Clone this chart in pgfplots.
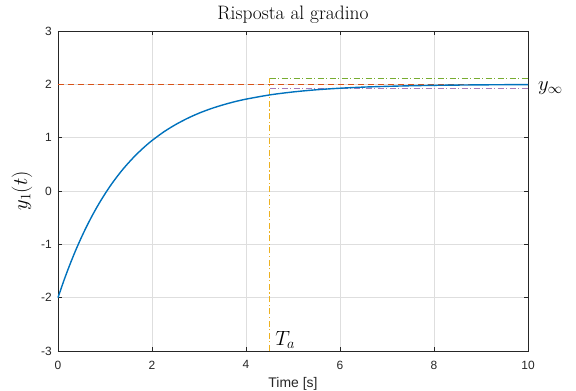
\documentclass[border=0pt]{standalone}
\usepackage{pgfplots}
\pgfplotsset{compat=1.18}
\usepackage{fontspec}
\newfontfamily\helv{Liberation Sans}
\definecolor{mblue}{HTML}{0072BD}
\definecolor{morange}{HTML}{D95319}
\definecolor{matyel}{RGB}{237,177,32}
\definecolor{mgreen}{HTML}{77AC30}
\definecolor{mpurple}{HTML}{A77BB8}
\definecolor{axgray}{HTML}{262626}
\definecolor{gridgray}{HTML}{DEDEDE}
\begin{document}
\begin{tikzpicture}
\begin{axis}[
  scale only axis, width=470bp, height=320bp,
  xmin=0, xmax=10, ymin=-3, ymax=3,
  xtick={0,2,4,6,8,10}, xticklabels={0,2,4,6,8,10},
  ytick={-3,-2,-1,0,1,2,3}, yticklabels={-3,-2,-1,0,1,2,3},
  grid=major, major grid style={gridgray, line width=0.5bp},
  axis line style={axgray, line width=0.6bp},
  tick style={axgray, line width=0.6bp},
  tick align=inside, major tick length=4bp,
  xtick pos=both, ytick pos=both,
  /pgf/number format/assume math mode=true,
  tick label style={font=\helv\fontsize{12}{14}\selectfont, text=axgray, inner sep=0pt},
  xticklabel style={anchor=north, yshift=-9.5bp},
  yticklabel style={anchor=east, xshift=-6bp},
  title={Risposta al gradino},
  title style={font=\fontsize{19.5}{22}\selectfont, at={(axis description cs:0.5,1)}, anchor=base, yshift=6bp, inner sep=0pt},
  xlabel={Time [s]},
  xlabel style={font=\helv\fontsize{14}{16}\selectfont, text=axgray, at={(axis description cs:0.5,0)}, anchor=base, yshift=-37bp, inner sep=0pt},
  ylabel={$y_1(t)$},
  ylabel style={font=\fontsize{22}{24}\selectfont, at={(axis description cs:0,0.5)}, anchor=center, yshift=36bp, inner sep=0pt},
  clip=false,
]
\addplot[morange, line width=0.6bp, dash pattern=on 6bp off 4bp] coordinates {(0,2) (10,2)};
\addplot[color=matyel, line width=1.2bp, dash pattern=on 6bp off 2.5bp on 1.2bp off 2.5bp] coordinates {(4.5,-3) (4.5,2.11)};
\addplot[mgreen, line width=0.7bp, dash pattern=on 6bp off 2.5bp on 1bp off 2.5bp] coordinates {(4.5,2.11) (10,2.11)};
\addplot[mpurple, line width=0.7bp, dash pattern=on 6bp off 2.5bp on 1bp off 2.5bp] coordinates {(4.5,1.92) (10,1.92)};
\addplot[mblue, line width=1.4bp, smooth] coordinates {
(0,-2) (0.125,-1.680) (0.25,-1.386) (0.375,-1.115) (0.5,-0.866) (0.625,-0.637)
(0.75,-0.426) (0.875,-0.232) (1,-0.054) (1.125,0.111) (1.25,0.262) (1.375,0.401)
(1.5,0.528) (1.625,0.646) (1.75,0.754) (1.875,0.854) (2,0.946) (2.25,1.108)
(2.5,1.244) (2.75,1.360) (3,1.459) (3.25,1.542) (3.5,1.612) (3.75,1.672)
(4,1.722) (4.5,1.801) (5,1.857) (5.5,1.898) (6,1.927) (6.5,1.948) (7,1.962)
(7.5,1.973) (8,1.981) (8.5,1.986) (9,1.990) (9.5,1.993) (10,1.995)};
\node[anchor=base west, inner sep=0pt, font=\fontsize{22}{24}\selectfont] at (axis cs:10.21,1.89) {$y_\infty$};
\node[anchor=base west, inner sep=0pt, font=\fontsize{22}{24}\selectfont] at (axis cs:4.62,-2.89) {$T_a$};
\end{axis}
\pgfresetboundingbox
\path[use as bounding box] ([xshift=-58bp,yshift=-40bp]current axis.south west) rectangle ([xshift=48bp,yshift=31bp]current axis.north east);
\end{tikzpicture}
\end{document}
